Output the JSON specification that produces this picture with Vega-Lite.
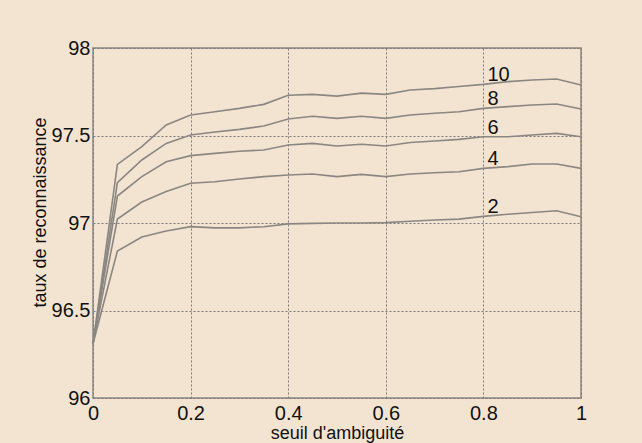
{
  "$schema": "https://vega.github.io/schema/vega-lite/v6.json",
  "width": 488,
  "height": 350,
  "autosize": {"type": "none"},
  "padding": {"left": 93, "top": 48, "right": 61, "bottom": 45},
  "background": "#f3e4d2",
  "config": {
    "view": {"stroke": "#8a8782", "strokeWidth": 1.5, "fill": "#f3e4d2"},
    "font": "Liberation Sans"
  },
  "data": {"values": [
    {"s": "10", "x": 0, "y": 96.31}, {"s": "10", "x": 0.05, "y": 97.335}, {"s": "10", "x": 0.1, "y": 97.436}, {"s": "10", "x": 0.15, "y": 97.56}, {"s": "10", "x": 0.2, "y": 97.617}, {"s": "10", "x": 0.25, "y": 97.636}, {"s": "10", "x": 0.3, "y": 97.655}, {"s": "10", "x": 0.35, "y": 97.678}, {"s": "10", "x": 0.4, "y": 97.73}, {"s": "10", "x": 0.45, "y": 97.735}, {"s": "10", "x": 0.5, "y": 97.725}, {"s": "10", "x": 0.55, "y": 97.742}, {"s": "10", "x": 0.6, "y": 97.735}, {"s": "10", "x": 0.65, "y": 97.76}, {"s": "10", "x": 0.7, "y": 97.768}, {"s": "10", "x": 0.75, "y": 97.78}, {"s": "10", "x": 0.8, "y": 97.792}, {"s": "10", "x": 0.85, "y": 97.808}, {"s": "10", "x": 0.9, "y": 97.817}, {"s": "10", "x": 0.95, "y": 97.823}, {"s": "10", "x": 1, "y": 97.789},
    {"s": "8", "x": 0, "y": 96.31}, {"s": "8", "x": 0.05, "y": 97.23}, {"s": "8", "x": 0.1, "y": 97.36}, {"s": "8", "x": 0.15, "y": 97.455}, {"s": "8", "x": 0.2, "y": 97.503}, {"s": "8", "x": 0.25, "y": 97.52}, {"s": "8", "x": 0.3, "y": 97.535}, {"s": "8", "x": 0.35, "y": 97.554}, {"s": "8", "x": 0.4, "y": 97.594}, {"s": "8", "x": 0.45, "y": 97.61}, {"s": "8", "x": 0.5, "y": 97.598}, {"s": "8", "x": 0.55, "y": 97.61}, {"s": "8", "x": 0.6, "y": 97.598}, {"s": "8", "x": 0.65, "y": 97.617}, {"s": "8", "x": 0.7, "y": 97.627}, {"s": "8", "x": 0.75, "y": 97.636}, {"s": "8", "x": 0.8, "y": 97.655}, {"s": "8", "x": 0.85, "y": 97.665}, {"s": "8", "x": 0.9, "y": 97.674}, {"s": "8", "x": 0.95, "y": 97.68}, {"s": "8", "x": 1, "y": 97.651},
    {"s": "6", "x": 0, "y": 96.31}, {"s": "6", "x": 0.05, "y": 97.154}, {"s": "6", "x": 0.1, "y": 97.265}, {"s": "6", "x": 0.15, "y": 97.35}, {"s": "6", "x": 0.2, "y": 97.385}, {"s": "6", "x": 0.25, "y": 97.398}, {"s": "6", "x": 0.3, "y": 97.41}, {"s": "6", "x": 0.35, "y": 97.417}, {"s": "6", "x": 0.4, "y": 97.446}, {"s": "6", "x": 0.45, "y": 97.455}, {"s": "6", "x": 0.5, "y": 97.44}, {"s": "6", "x": 0.55, "y": 97.45}, {"s": "6", "x": 0.6, "y": 97.44}, {"s": "6", "x": 0.65, "y": 97.46}, {"s": "6", "x": 0.7, "y": 97.469}, {"s": "6", "x": 0.75, "y": 97.478}, {"s": "6", "x": 0.8, "y": 97.493}, {"s": "6", "x": 0.85, "y": 97.493}, {"s": "6", "x": 0.9, "y": 97.503}, {"s": "6", "x": 0.95, "y": 97.512}, {"s": "6", "x": 1, "y": 97.493},
    {"s": "4", "x": 0, "y": 96.31}, {"s": "4", "x": 0.05, "y": 97.023}, {"s": "4", "x": 0.1, "y": 97.12}, {"s": "4", "x": 0.15, "y": 97.18}, {"s": "4", "x": 0.2, "y": 97.227}, {"s": "4", "x": 0.25, "y": 97.236}, {"s": "4", "x": 0.3, "y": 97.251}, {"s": "4", "x": 0.35, "y": 97.265}, {"s": "4", "x": 0.4, "y": 97.274}, {"s": "4", "x": 0.45, "y": 97.28}, {"s": "4", "x": 0.5, "y": 97.265}, {"s": "4", "x": 0.55, "y": 97.278}, {"s": "4", "x": 0.6, "y": 97.265}, {"s": "4", "x": 0.65, "y": 97.28}, {"s": "4", "x": 0.7, "y": 97.287}, {"s": "4", "x": 0.75, "y": 97.293}, {"s": "4", "x": 0.8, "y": 97.312}, {"s": "4", "x": 0.85, "y": 97.322}, {"s": "4", "x": 0.9, "y": 97.337}, {"s": "4", "x": 0.95, "y": 97.337}, {"s": "4", "x": 1, "y": 97.312},
    {"s": "2", "x": 0, "y": 96.31}, {"s": "2", "x": 0.05, "y": 96.84}, {"s": "2", "x": 0.1, "y": 96.92}, {"s": "2", "x": 0.15, "y": 96.954}, {"s": "2", "x": 0.2, "y": 96.979}, {"s": "2", "x": 0.25, "y": 96.972}, {"s": "2", "x": 0.3, "y": 96.972}, {"s": "2", "x": 0.35, "y": 96.979}, {"s": "2", "x": 0.4, "y": 96.995}, {"s": "2", "x": 0.45, "y": 96.998}, {"s": "2", "x": 0.5, "y": 97.0}, {"s": "2", "x": 0.55, "y": 97.0}, {"s": "2", "x": 0.6, "y": 97.002}, {"s": "2", "x": 0.65, "y": 97.01}, {"s": "2", "x": 0.7, "y": 97.017}, {"s": "2", "x": 0.75, "y": 97.022}, {"s": "2", "x": 0.8, "y": 97.038}, {"s": "2", "x": 0.85, "y": 97.05}, {"s": "2", "x": 0.9, "y": 97.06}, {"s": "2", "x": 0.95, "y": 97.07}, {"s": "2", "x": 1, "y": 97.036}
  ]},
  "encoding": {
    "x": {
      "field": "x", "type": "quantitative",
      "scale": {"domain": [0, 1], "nice": false},
      "axis": {
        "values": [0, 0.2, 0.4, 0.6, 0.8, 1], "format": "~g",
        "title": "seuil d'ambiguité",
        "grid": true, "gridDash": [2, 2], "gridColor": "#7a7a7a", "gridOpacity": 1, "gridWidth": 1,
        "domain": false, "ticks": false,
        "labelFontSize": 20, "labelColor": "#111111", "labelPadding": 21, "labelBaseline": "alphabetic", "labelFlush": false,
        "titleFontSize": 18, "titleFontWeight": "normal", "titleColor": "#111111", "titleY": 40, "titleBaseline": "alphabetic"
      }
    },
    "y": {
      "field": "y", "type": "quantitative",
      "scale": {"domain": [96, 98], "nice": false, "zero": false},
      "axis": {
        "values": [96, 96.5, 97, 97.5, 98], "format": "~g",
        "title": "taux de reconnaissance",
        "grid": true, "gridDash": [2, 2], "gridColor": "#7a7a7a", "gridOpacity": 1, "gridWidth": 1,
        "domain": false, "ticks": false,
        "labelFontSize": 20, "labelColor": "#111111", "labelPadding": 3, "labelBaseline": "middle",
        "titleFontSize": 18, "titleFontWeight": "normal", "titleColor": "#111111", "titleX": -53, "titleY": 164, "titleBaseline": "middle"
      }
    }
  },
  "layer": [
    {
      "mark": {"type": "line", "color": "#8a8782", "strokeWidth": 1.6},
      "encoding": {"detail": {"field": "s"}}
    },
    {
      "transform": [{"filter": "datum.x == 0.8"}],
      "mark": {"type": "text", "align": "left", "baseline": "alphabetic", "dx": 4, "dy": -3, "fontSize": 20, "color": "#111111"},
      "encoding": {"text": {"field": "s"}}
    }
  ]
}
